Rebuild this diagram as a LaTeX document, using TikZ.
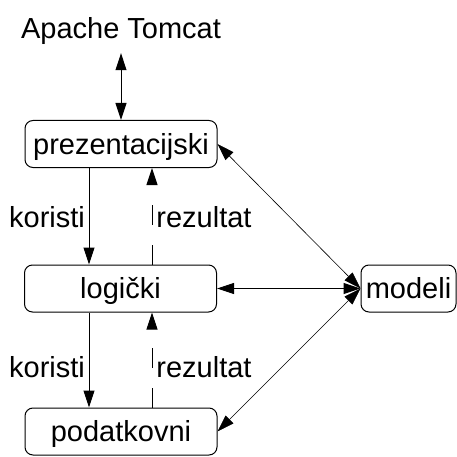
\documentclass[tikz,border=0pt]{standalone}
\usepackage{fontspec}
\setmainfont{Liberation Sans}
\usetikzlibrary{arrows.meta}
\begin{document}
\begin{tikzpicture}[x=1pt,y=1pt,
  >={Triangle[length=17pt,width=11pt]},
  every node/.style={font=\fontsize{29pt}{34pt}\selectfont},
  layer/.style={draw, rounded corners=8pt, line width=1pt, minimum width=192pt, minimum height=47pt, inner sep=0pt, text height=20pt, text depth=0pt},
  mbox/.style={layer, minimum width=95pt},
  lbl/.style={inner sep=0pt},
  conn/.style={line width=1pt, ->},
  biconn/.style={line width=1pt, <->},
  diag/.style={line width=0.6pt, <->},
  res/.style={conn, dash pattern=on 20pt off 20pt}
]
\useasboundingbox (0,0) rectangle (457,-457);
\node[anchor=base, inner sep=0pt, text depth=6pt] (apache) at (121,-39) {Apache Tomcat};
\node[layer] (prez) at (121,-144) {prezentacijski};
\node[layer] (log) at (120.5,-288.5) {logički};
\node[layer] (pod) at (121,-431.5) {podatkovni};
\node[mbox] (mod) at (408.5,-288.5) {modeli};

\draw[biconn, shorten <=8pt] (apache.south) -- (prez.north);

\draw[conn] ([xshift=-32pt]prez.south) -- ([xshift=-31.5pt]log.north);
\draw[res] ([xshift=31.5pt]log.north) -- ([xshift=31pt]prez.south);
\draw[conn] ([xshift=-31.5pt]log.south) -- ([xshift=-32pt]pod.north);
\draw[res] ([xshift=31pt]pod.north) -- ([xshift=31.5pt]log.south);

\node[lbl] (k1) at (47,-217) {koristi};
\node[lbl] (r1) at (204,-217) {rezultat};
\node[lbl] (k2) at (47,-367) {koristi};
\node[lbl] (r2) at (204,-367) {rezultat};

\draw[diag] (prez.east) -- (mod.west);
\draw[biconn] (log.east) -- (mod.west);
\draw[diag] (pod.east) -- (mod.west);
\end{tikzpicture}
\end{document}
